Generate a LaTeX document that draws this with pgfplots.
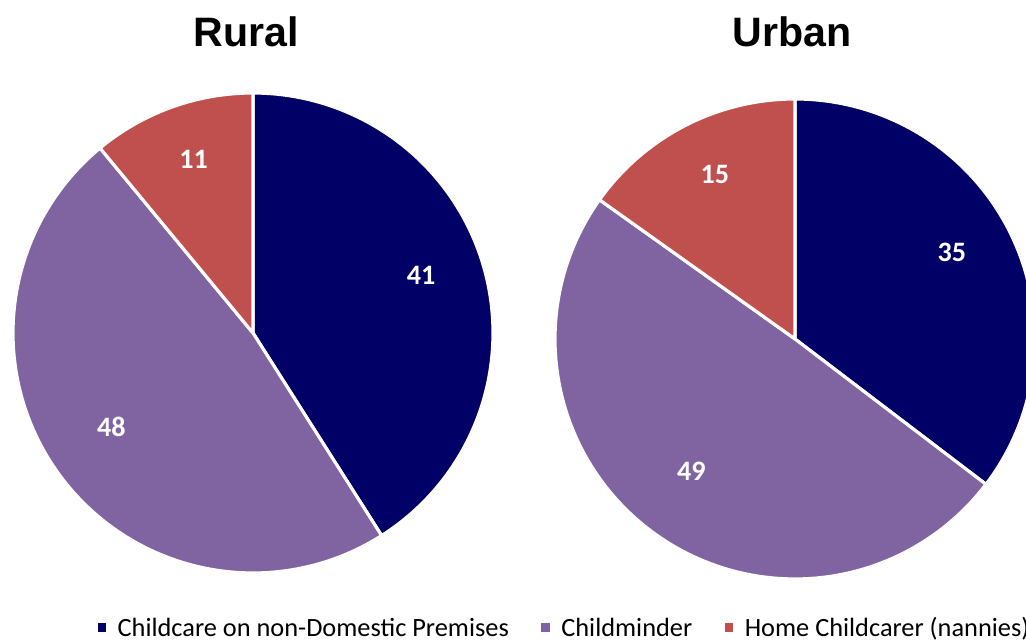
\documentclass[border=0pt]{standalone}
\usepackage{pgfplots}
\pgfplotsset{compat=1.18}
\usepackage{pgfplotstable}
\usepackage{fontspec}
\setmainfont{Carlito}
\newfontfamily\titlefont{Liberation Sans}
\newfontfamily\legfont{Carlito}
\definecolor{cNavy}{RGB}{0,0,102}
\definecolor{cPurple}{RGB}{128,100,162}
\definecolor{cRed}{RGB}{192,80,77}

% values (percent) per category
\pgfplotstableread{
cat value
NonDomestic 41
Childminder 48
Home 11
}\ruraltable
\pgfplotstableread{
cat value
NonDomestic 35
Childminder 49
Home 15
}\urbantable

\pgfplotstablegetelem{0}{value}\of\ruraltable \let\rA\pgfplotsretval
\pgfplotstablegetelem{1}{value}\of\ruraltable \let\rB\pgfplotsretval
\pgfplotstablegetelem{2}{value}\of\ruraltable \let\rC\pgfplotsretval
\pgfplotstablegetelem{0}{value}\of\urbantable \let\uA\pgfplotsretval
\pgfplotstablegetelem{1}{value}\of\urbantable \let\uB\pgfplotsretval
\pgfplotstablegetelem{2}{value}\of\urbantable \let\uC\pgfplotsretval

% cumulative angles (clockwise from north)
\pgfmathsetmacro\rS{\rA+\rB+\rC}
\pgfmathsetmacro\rEa{\rA/\rS*360}
\pgfmathsetmacro\rEb{(\rA+\rB)/\rS*360}
\pgfmathsetmacro\rMa{\rEa/2}
\pgfmathsetmacro\rMb{(\rEa+\rEb)/2}
\pgfmathsetmacro\rMc{(\rEb+360)/2}
\pgfmathsetmacro\uS{\uA+\uB+\uC}
\pgfmathsetmacro\uEa{\uA/\uS*360}
\pgfmathsetmacro\uEb{(\uA+\uB)/\uS*360}
\pgfmathsetmacro\uMa{\uEa/2}
\pgfmathsetmacro\uMb{(\uEa+\uEb)/2}
\pgfmathsetmacro\uMc{(\uEb+360)/2}

% pie geometry (pixel units)
\def\rcx{253}\def\rcy{308}
\def\ucx{795}\def\ucy{302}
\def\R{240}
\def\LR{175}
\def\LY{9}

\begin{document}
\begin{tikzpicture}
\begin{axis}[
  x=0.1mm, y=0.1mm,
  xmin=0, xmax=1026, ymin=0, ymax=641,
  hide axis, clip=true,
  every axis plot/.append style={draw=white, line width=0.9pt, line join=round},
  legend image code/.code={\fill[#1,draw=none] (0mm,0.45mm) rectangle (0.85mm,1.35mm);},
  legend columns=3,
  legend style={draw=none, fill=none, inner sep=0pt,
    at={(0.0945,-0.003)}, anchor=south west,
    font=\legfont\fontsize{7.5pt}{8.7pt}\selectfont,
    nodes={inner sep=0pt, anchor=base west},
    /tikz/every odd column/.append style={column sep=1.15mm},
    /tikz/every even column/.append style={column sep=3.25mm}},
]
% Rural
\addplot[fill=cNavy, domain=0:\rEa, samples=120]
  ({\rcx+\R*sin(x)},{\rcy+\R*cos(x)}) -- (axis cs:\rcx,\rcy) -- cycle;
\addlegendentry{Childcare on non-Domestic Premises}
\addplot[fill=cPurple, domain=\rEa:\rEb, samples=120]
  ({\rcx+\R*sin(x)},{\rcy+\R*cos(x)}) -- (axis cs:\rcx,\rcy) -- cycle;
\addlegendentry{Childminder}
\addplot[fill=cRed, domain=\rEb:360, samples=60]
  ({\rcx+\R*sin(x)},{\rcy+\R*cos(x)}) -- (axis cs:\rcx,\rcy) -- cycle;
\addlegendentry{Home Childcarer (nannies)}
% Urban
\addplot[forget plot, fill=cNavy, domain=0:\uEa, samples=120]
  ({\ucx+\R*sin(x)},{\ucy+\R*cos(x)}) -- (axis cs:\ucx,\ucy) -- cycle;
\addplot[forget plot, fill=cPurple, domain=\uEa:\uEb, samples=120]
  ({\ucx+\R*sin(x)},{\ucy+\R*cos(x)}) -- (axis cs:\ucx,\ucy) -- cycle;
\addplot[forget plot, fill=cRed, domain=\uEb:360, samples=60]
  ({\ucx+\R*sin(x)},{\ucy+\R*cos(x)}) -- (axis cs:\ucx,\ucy) -- cycle;

% data labels
\begin{scope}[every node/.style={text=white, font=\bfseries\fontsize{8pt}{9pt}\selectfont}]
\node at (axis cs:{\rcx+\LR*sin(\rMa)},{\rcy+\LY+\LR*cos(\rMa)}) {\rA};
\node at (axis cs:{\rcx+\LR*sin(\rMb)},{\rcy+\LY+\LR*cos(\rMb)}) {\rB};
\node at (axis cs:{\rcx+\LR*sin(\rMc)},{\rcy+\LY+\LR*cos(\rMc)}) {\rC};
\node at (axis cs:{\ucx+\LR*sin(\uMa)},{\ucy+\LY+\LR*cos(\uMa)}) {\uA};
\node at (axis cs:{\ucx+\LR*sin(\uMb)},{\ucy+\LY+\LR*cos(\uMb)}) {\uB};
\node at (axis cs:{\ucx+\LR*sin(\uMc)},{\ucy+\LY+\LR*cos(\uMc)}) {\uC};
\end{scope}

% titles
\node[anchor=base, font=\titlefont\bfseries\fontsize{11.7pt}{14pt}\selectfont] at (axis cs:246,594) {Rural};
\node[anchor=base, font=\titlefont\bfseries\fontsize{11.7pt}{14pt}\selectfont] at (axis cs:792,594) {Urban};
\end{axis}
\pgfresetboundingbox
\path[use as bounding box] (current axis.south west) rectangle (current axis.north east);
\end{tikzpicture}
\end{document}
